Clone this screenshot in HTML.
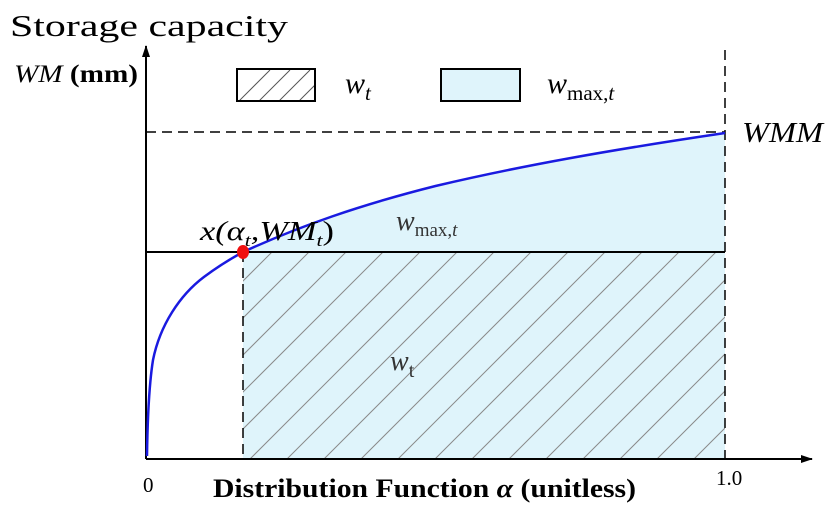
<!DOCTYPE html>
<html><head><meta charset="utf-8"><style>body{margin:0;background:#fff}svg{display:block}</style></head><body>
<svg width="839" height="509" viewBox="0 0 839 509" xmlns="http://www.w3.org/2000/svg" font-family="Liberation Serif, serif">
<defs>
<clipPath id="c"><rect x="243" y="252" width="482" height="207"/></clipPath>
<clipPath id="l"><rect x="237" y="69" width="78" height="32"/></clipPath>
<marker id="a" markerWidth="12" markerHeight="10" refX="11" refY="5" orient="auto" markerUnits="userSpaceOnUse"><path d="M0,1 L12,5 L0,9 Z" fill="#000"/></marker>
</defs>
<path d="M243,252 L290.8,230 L348.7,209 L435.5,186 L522.4,167 L609.2,151 L725,133 L725,459 L243,459 Z" fill="#dff4fb"/>
<g clip-path="url(#c)" stroke="#8a8a8a" stroke-width="1">
<path d="M28,459l240,-240M65,459l240,-240M102,459l240,-240M139,459l240,-240M176,459l240,-240M213,459l240,-240M250,459l240,-240M287,459l240,-240M324,459l240,-240M361,459l240,-240M398,459l240,-240M435,459l240,-240M472,459l240,-240M509,459l240,-240M546,459l240,-240M583,459l240,-240M620,459l240,-240M657,459l240,-240M694,459l240,-240"/>
</g>
<line x1="146" y1="252" x2="725" y2="252" stroke="#000" stroke-width="2"/>
<line x1="146" y1="132" x2="725" y2="132" stroke="#000" stroke-width="1.5" stroke-dasharray="10,6"/>
<line x1="725" y1="50" x2="725" y2="459" stroke="#000" stroke-width="1.5" stroke-dasharray="10,6"/>
<line x1="243" y1="252" x2="243" y2="459" stroke="#000" stroke-width="1.5" stroke-dasharray="10,6"/>
<line x1="146" y1="459" x2="146" y2="46" stroke="#000" stroke-width="2" marker-end="url(#a)"/>
<line x1="146" y1="459" x2="812" y2="459" stroke="#000" stroke-width="2" marker-end="url(#a)"/>
<path fill="none" stroke="#1a1ae0" stroke-width="2.5" d="M147,456 C147.5,420 149,385 153,360 C160,325 180,295 203.9,277 C220,265 232,258 243,252 C300,226 360,205 435.5,186 C520,166 610,150 725,133"/>
<ellipse cx="243" cy="252" rx="6" ry="7" fill="#f01010"/>
<g clip-path="url(#l)" stroke="#555" stroke-width="1"><path d="M230,110l40,-40M250,110l40,-40M270,110l40,-40M290,110l40,-40M310,110l40,-40"/></g>
<rect x="237" y="69" width="78" height="32" fill="none" stroke="#000" stroke-width="2"/>
<rect x="441" y="69" width="79" height="32" fill="#dff4fb" stroke="#000" stroke-width="2"/>
<text x="10" y="36" font-size="31" textLength="278" lengthAdjust="spacingAndGlyphs">Storage capacity</text>
<text x="14" y="82" font-size="25" textLength="124" lengthAdjust="spacingAndGlyphs"><tspan font-style="italic">WM</tspan> <tspan font-weight="bold">(mm)</tspan></text>
<text x="345" y="93" font-size="30" font-style="italic">w<tspan font-size="21" dy="7">t</tspan></text>
<text x="547" y="93" font-size="30" font-style="italic">w<tspan font-size="21" dy="7" font-style="normal">max,</tspan><tspan font-size="21">t</tspan></text>
<text x="742" y="142" font-size="28" font-style="italic" textLength="81" lengthAdjust="spacingAndGlyphs">WMM</text>
<text x="200" y="240" font-size="27" font-style="italic" textLength="134" lengthAdjust="spacingAndGlyphs">x(α<tspan font-size="17" dy="6">t</tspan><tspan dy="-6">,WM</tspan><tspan font-size="17" dy="6">t</tspan><tspan dy="-6" font-style="normal">)</tspan></text>
<text x="396" y="230" font-size="28" font-style="italic" fill="#333">w<tspan font-size="19" dy="6" font-style="normal">max,</tspan><tspan font-size="19">t</tspan></text>
<text x="390" y="370" font-size="28" font-style="italic" fill="#333">w<tspan font-size="20" dy="7" font-style="normal">t</tspan></text>
<text x="143" y="492" font-size="21">0</text>
<text x="716" y="485" font-size="21">1.0</text>
<text x="213" y="497" font-size="26" font-weight="bold" textLength="423" lengthAdjust="spacingAndGlyphs">Distribution Function <tspan font-style="italic">α</tspan> (unitless)</text>
</svg>
</body></html>
